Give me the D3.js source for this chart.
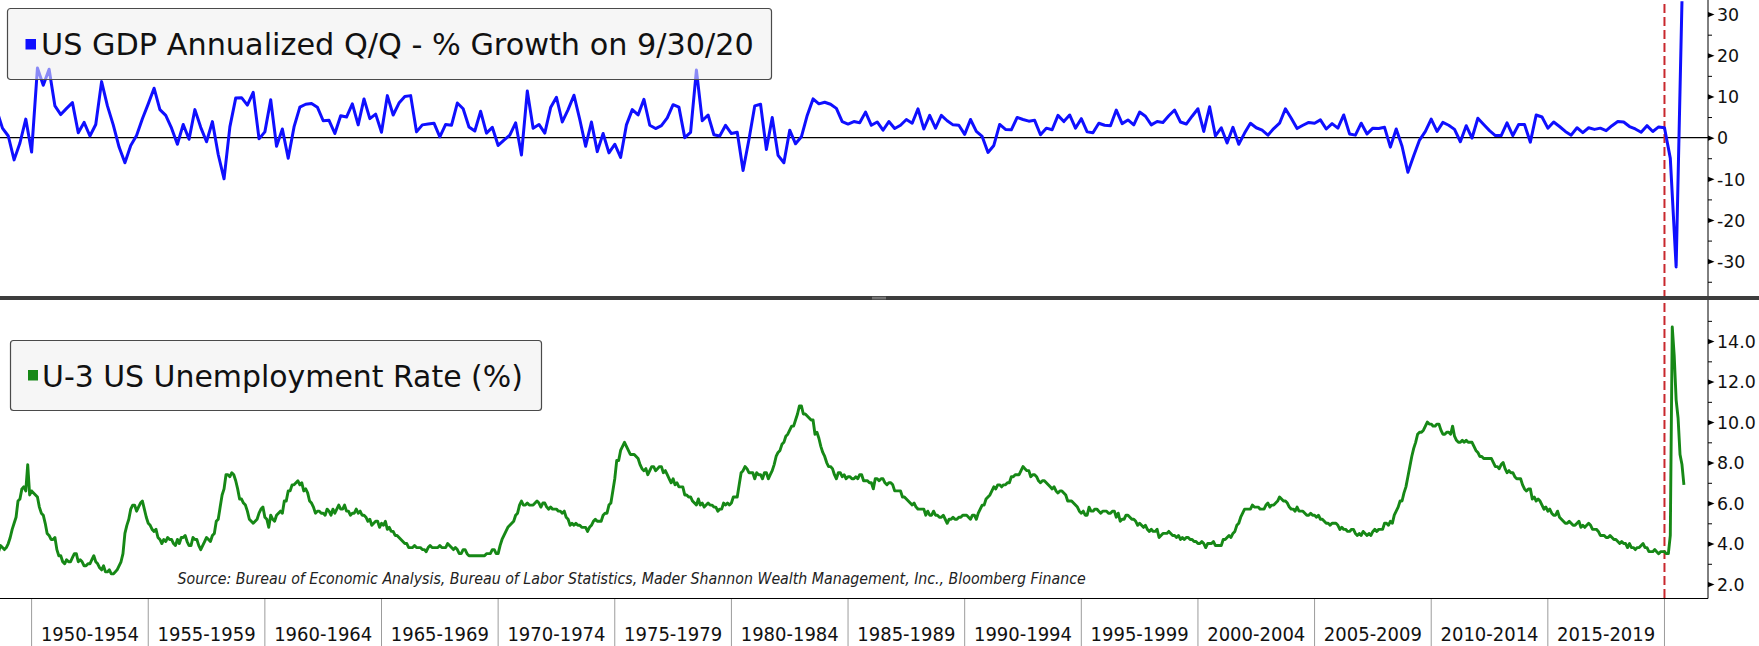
<!DOCTYPE html>
<html><head><meta charset="utf-8">
<script src="https://cdn.jsdelivr.net/npm/d3@7"></script>
<style>html,body{margin:0;padding:0;background:#fff;overflow:hidden}</style>
</head><body><svg id="c" width="1759" height="646"></svg>
<script>
// ---------------- DATA ----------------
const categories = ["1950-1954","1955-1959","1960-1964","1965-1969","1970-1974","1975-1979","1980-1984",
  "1985-1989","1990-1994","1995-1999","2000-2004","2005-2009","2010-2014","2015-2019"];
const categoryStartYears = [1950,1955,1960,1965,1970,1975,1980,1985,1990,1995,2000,2005,2010,2015];
const categoryEndYear = 2020;

const gdpTitle = "US GDP Annualized Q/Q - % Growth on 9/30/20";
const unempTitle = "U-3 US Unemployment Rate (%)";
const sourceText = "Source: Bureau of Economic Analysis, Bureau of Labor Statistics, Mader Shannon Wealth Management, Inc., Bloomberg Finance";

// quarterly, starting 1948 Q1 (plotted at quarter end)
const gdpStartYear = 1948;
const gdpGrowth = [
  6.2, 6.8, 2.3, 0.4,
  -5.4, -1.3, 4.5, -3.5,
  16.9, 12.7, 16.6, 7.7,
  5.6, 7.1, 8.5, 1.2,
  3.7, 0.4, 3.2, 13.6,
  7.7, 3.1, -2.3, -6.1,
  -1.9, 0.5, 4.6, 8.2,
  12.0, 6.8, 5.4, 2.3,
  -1.6, 3.2, -0.4, 6.8,
  2.5, -1.0, 3.9, -4.1,
  -10.0, 2.6, 9.6, 9.7,
  7.9, 11.0, -0.3, 1.4,
  9.2, -2.1, 2.1, -5.0,
  2.6, 7.4, 8.1, 8.3,
  7.4, 4.1, 4.2, 1.0,
  5.3, 5.0, 8.2, 3.1,
  9.4, 4.6, 5.7, 1.3,
  10.2, 5.5, 8.4, 10.0,
  10.2, 1.4, 3.1, 3.3,
  3.5, 0.2, 3.2, 3.0,
  8.4, 7.0, 2.6, 1.6,
  6.4, 1.1, 2.5, -1.9,
  -0.6, 0.6, 3.6, -4.2,
  11.3, 2.3, 3.2, 1.1,
  7.3, 9.8, 3.8, 6.8,
  10.3, 4.4, -2.1, 3.8,
  -3.4, 1.0, -3.7, -1.6,
  -4.8, 3.1, 6.8, 5.5,
  9.3, 3.0, 2.2, 2.9,
  4.8, 8.0, 7.4, 0.0,
  1.3, 16.4, 4.1, 5.5,
  0.7, 0.4, 3.0, 1.0,
  1.3, -8.0, -0.5, 7.7,
  8.1, -2.9, 4.9, -4.3,
  -6.1, 1.8, -1.5, 0.2,
  5.4, 9.4, 8.2, 8.6,
  8.1, 7.1, 3.9, 3.3,
  3.9, 3.6, 6.2, 3.0,
  3.8, 1.8, 3.9, 2.2,
  3.0, 4.4, 3.5, 7.0,
  2.1, 5.4, 2.3, 5.4,
  4.1, 3.1, 3.0, 0.8,
  4.4, 1.5, 0.3, -3.6,
  -1.9, 3.2, 2.0, 1.9,
  4.9, 4.4, 4.0, 4.2,
  0.7, 2.3, 1.9, 5.4,
  3.9, 5.5, 2.3, 4.6,
  1.4, 1.2, 3.5, 3.0,
  2.9, 6.7, 3.4, 4.3,
  3.1, 6.2, 5.2, 3.1,
  3.9, 3.7, 5.3, 6.7,
  3.8, 3.3, 5.2, 7.0,
  1.5, 7.5, 0.4, 2.4,
  -1.3, 2.5, -1.6, 1.1,
  3.5, 2.4, 1.8, 0.6,
  2.2, 3.5, 7.0, 4.7,
  2.2, 3.0, 3.7, 3.5,
  4.3, 2.1, 3.4, 2.3,
  5.5, 0.9, 0.6, 3.5,
  0.9, 2.3, 2.2, 2.5,
  -2.3, 2.1, -2.1, -8.4,
  -4.4, -0.6, 1.5, 4.5,
  1.5, 3.7, 3.0, 2.0,
  -1.0, 2.9, -0.1, 4.7,
  3.2, 1.7, 0.5, 0.5,
  3.6, 0.5, 3.2, 3.2,
  -1.1, 5.5, 5.0, 2.3,
  3.8, 2.7, 1.5, 0.6,
  2.4, 1.2, 2.4, 2.0,
  2.3, 1.7, 2.9, 3.9,
  3.8, 2.7, 2.1, 1.3,
  2.9, 1.5, 2.6, 2.4,
  -5.0, -31.4, 33.1
];

// monthly, starting Jan 1948 (plotted at month end)
const unempStartYear = 1948;
const unempRate = [
  3.4,3.8,4.0,3.9,3.5,3.6,3.6,3.9,3.8,3.7,3.8,4.0,
  4.3,4.7,5.0,5.3,6.1,6.2,6.7,6.8,6.6,7.9,6.4,6.6,
  6.5,6.4,6.3,5.8,5.5,5.4,5.0,4.5,4.4,4.2,4.2,4.3,
  3.7,3.4,3.4,3.1,3.0,3.2,3.1,3.1,3.3,3.5,3.5,3.1,
  3.2,3.1,2.9,2.9,3.0,3.0,3.2,3.4,3.1,3.0,2.8,2.7,
  2.9,2.6,2.6,2.7,2.5,2.5,2.6,2.7,2.9,3.1,3.5,4.5,
  4.9,5.2,5.7,5.9,5.9,5.6,5.8,6.0,6.1,5.7,5.3,5.0,
  4.9,4.7,4.6,4.7,4.3,4.2,4.0,4.2,4.1,4.3,4.2,4.2,
  4.0,3.9,4.2,4.0,4.3,4.3,4.4,4.1,3.9,3.9,4.3,4.2,
  4.2,3.9,3.7,3.9,4.1,4.3,4.2,4.1,4.4,4.5,5.1,5.2,
  5.8,6.4,6.7,7.4,7.4,7.3,7.5,7.4,7.1,6.7,6.2,6.2,
  6.0,5.9,5.6,5.2,5.1,5.0,5.1,5.2,5.5,5.7,5.8,5.3,
  5.2,4.8,5.4,5.2,5.1,5.4,5.5,5.6,5.5,6.1,6.1,6.6,
  6.6,6.9,6.9,7.0,7.1,6.9,7.0,6.6,6.7,6.5,6.1,6.0,
  5.8,5.5,5.6,5.6,5.5,5.5,5.4,5.7,5.6,5.4,5.7,5.5,
  5.7,5.9,5.7,5.7,5.9,5.6,5.6,5.4,5.5,5.5,5.7,5.5,
  5.6,5.4,5.4,5.3,5.1,5.2,4.9,5.0,5.1,5.1,4.8,5.0,
  4.9,5.1,4.7,4.8,4.6,4.6,4.4,4.4,4.3,4.2,4.1,4.0,
  4.0,3.8,3.8,3.8,3.9,3.8,3.8,3.8,3.7,3.7,3.6,3.8,
  3.9,3.8,3.8,3.8,3.8,3.9,3.8,3.8,3.8,4.0,3.9,3.8,
  3.7,3.8,3.7,3.5,3.5,3.7,3.7,3.5,3.4,3.4,3.4,3.4,
  3.4,3.4,3.4,3.4,3.4,3.5,3.5,3.5,3.7,3.7,3.5,3.5,
  3.9,4.2,4.4,4.6,4.8,4.9,5.0,5.1,5.4,5.5,5.9,6.1,
  5.9,5.9,6.0,5.9,5.9,5.9,6.0,6.1,6.0,5.8,6.0,6.0,
  5.8,5.7,5.8,5.7,5.7,5.7,5.6,5.6,5.5,5.6,5.3,5.2,
  4.9,5.0,4.9,5.0,4.9,4.9,4.8,4.8,4.8,4.6,4.8,4.9,
  5.1,5.2,5.1,5.1,5.1,5.4,5.5,5.5,5.9,6.0,6.6,7.2,
  8.1,8.1,8.6,8.8,9.0,8.8,8.6,8.4,8.4,8.4,8.3,8.2,
  7.9,7.7,7.6,7.7,7.4,7.6,7.8,7.8,7.6,7.7,7.8,7.8,
  7.5,7.6,7.4,7.2,7.0,7.2,6.9,7.0,6.8,6.8,6.8,6.4,
  6.4,6.3,6.3,6.1,6.0,5.9,6.2,5.9,6.0,5.8,5.9,6.0,
  5.9,5.9,5.8,5.8,5.6,5.7,5.7,6.0,5.9,6.0,5.9,6.0,
  6.3,6.3,6.3,6.9,7.5,7.6,7.8,7.7,7.5,7.5,7.5,7.2,
  7.5,7.4,7.4,7.2,7.5,7.5,7.2,7.4,7.6,7.9,8.3,8.5,
  8.6,8.9,9.0,9.3,9.4,9.6,9.8,9.8,10.1,10.4,10.8,10.8,
  10.4,10.4,10.3,10.2,10.1,10.1,9.4,9.5,9.2,8.8,8.5,8.3,
  8.0,7.8,7.8,7.7,7.4,7.2,7.5,7.5,7.3,7.4,7.2,7.3,
  7.3,7.2,7.2,7.3,7.2,7.4,7.4,7.1,7.1,7.1,7.0,7.0,
  6.7,7.2,7.2,7.1,7.2,7.2,7.0,6.9,7.0,7.0,6.9,6.6,
  6.6,6.6,6.6,6.3,6.3,6.2,6.1,6.0,5.9,6.0,5.8,5.7,
  5.7,5.7,5.7,5.4,5.6,5.4,5.4,5.6,5.4,5.4,5.3,5.3,
  5.4,5.2,5.0,5.2,5.2,5.3,5.2,5.2,5.3,5.3,5.4,5.4,
  5.4,5.3,5.2,5.4,5.4,5.2,5.5,5.7,5.9,5.9,6.2,6.3,
  6.4,6.6,6.8,6.7,6.9,6.9,6.8,6.9,6.9,7.0,7.0,7.3,
  7.3,7.4,7.4,7.4,7.6,7.8,7.7,7.6,7.6,7.3,7.4,7.4,
  7.3,7.1,7.0,7.1,7.1,7.0,6.9,6.8,6.7,6.8,6.6,6.5,
  6.6,6.6,6.5,6.4,6.1,6.1,6.1,6.0,5.9,5.8,5.6,5.5,
  5.6,5.4,5.4,5.8,5.6,5.6,5.7,5.7,5.6,5.5,5.6,5.6,
  5.6,5.5,5.5,5.6,5.6,5.3,5.5,5.1,5.2,5.2,5.4,5.4,
  5.3,5.2,5.2,5.1,4.9,5.0,4.9,4.8,4.9,4.7,4.6,4.7,
  4.6,4.6,4.7,4.3,4.4,4.5,4.5,4.5,4.6,4.5,4.4,4.4,
  4.3,4.4,4.2,4.3,4.2,4.3,4.3,4.2,4.2,4.1,4.1,4.0,
  4.0,4.1,4.0,3.8,4.0,4.0,4.0,4.1,3.9,3.9,3.9,3.9,
  4.2,4.2,4.3,4.4,4.3,4.5,4.6,4.9,5.0,5.3,5.5,5.7,
  5.7,5.7,5.7,5.9,5.8,5.8,5.8,5.7,5.7,5.7,5.9,6.0,
  5.8,5.9,5.9,6.0,6.1,6.3,6.2,6.1,6.1,6.0,5.8,5.7,
  5.7,5.6,5.8,5.6,5.6,5.6,5.5,5.4,5.4,5.5,5.4,5.4,
  5.3,5.4,5.2,5.2,5.1,5.0,5.0,4.9,5.0,5.0,5.0,4.9,
  4.7,4.8,4.7,4.7,4.6,4.6,4.7,4.7,4.5,4.4,4.5,4.4,
  4.6,4.5,4.4,4.5,4.4,4.6,4.7,4.6,4.7,4.7,4.7,5.0,
  5.0,4.9,5.1,5.0,5.4,5.6,5.8,6.1,6.1,6.5,6.8,7.3,
  7.8,8.3,8.7,9.0,9.4,9.5,9.5,9.6,9.8,10.0,9.9,9.9,
  9.8,9.8,9.9,9.9,9.6,9.4,9.4,9.5,9.5,9.4,9.8,9.3,
  9.1,9.0,9.0,9.1,9.0,9.1,9.0,9.0,9.0,8.8,8.6,8.5,
  8.3,8.3,8.2,8.2,8.2,8.2,8.2,8.0,7.8,7.8,7.7,7.9,
  8.0,7.7,7.5,7.6,7.5,7.5,7.3,7.2,7.2,7.2,6.9,6.7,
  6.6,6.7,6.7,6.2,6.3,6.1,6.2,6.1,5.9,5.7,5.8,5.6,
  5.7,5.5,5.4,5.4,5.6,5.3,5.2,5.1,5.0,5.0,5.1,5.0,
  4.9,4.9,5.0,5.1,4.8,4.9,4.8,4.9,5.0,4.9,4.7,4.7,
  4.7,4.6,4.4,4.4,4.4,4.3,4.3,4.4,4.3,4.2,4.2,4.1,
  4.0,4.1,4.0,4.0,3.8,4.0,3.8,3.8,3.7,3.8,3.8,3.9,
  4.0,3.8,3.8,3.6,3.6,3.6,3.7,3.6,3.5,3.6,3.6,3.6,
  3.5,3.5,4.4,14.7,13.3,11.1,10.2,8.4,7.9,6.9
];

const gdpTicks = [-30,-20,-10,0,10,20,30];
const gdpMinorTicks = [-35,-25,-15,-5,5,15,25];
const unempTicks = [2,4,6,8,10,12,14];
const unempMinorTicks = [3,5,7,9,11,13,15];
const eventYear = 2020;

// ---------------- LAYOUT ----------------
const W = 1759, H = 646;
const plotRight = 1708;
const topPanel = {y0: 0, y1: 296};
const botPanel = {y0: 300, y1: 598};
const FONT = "DejaVu Sans";
const blue = "#0f0fff", green = "#168816";

const gdpData = gdpGrowth.map((v,i) => ({t: gdpStartYear + (i+1)/4, v}));
const unempData = unempRate.map((v,i) => ({t: unempStartYear + (i+1)/12, v}));

const x = d3.scaleLinear().domain([1948.645, 2021.866]).range([0, plotRight]);
const yTop = d3.scaleLinear().domain([-38.7, 33.42]).range([297, 0]);
const yBot = d3.scaleLinear().domain([1.31, 16.03]).range([598, 300]);

const svg = d3.select("#c");
svg.append("rect").attr("width", W).attr("height", H).attr("fill", "#fff");

const defs = svg.append("defs");
defs.append("clipPath").attr("id","clipTop").append("rect")
  .attr("x",0).attr("y",topPanel.y0).attr("width",plotRight).attr("height",topPanel.y1-topPanel.y0);
defs.append("clipPath").attr("id","clipBot").append("rect")
  .attr("x",0).attr("y",botPanel.y0).attr("width",plotRight).attr("height",botPanel.y1-botPanel.y0);

// zero line
svg.append("line").attr("x1",0).attr("x2",plotRight)
  .attr("y1",yTop(0)).attr("y2",yTop(0)).attr("stroke","#000").attr("stroke-width",1.2);

// event dashed line
svg.append("line").attr("x1",x(eventYear)).attr("x2",x(eventYear))
  .attr("y1",4).attr("y2",botPanel.y1)
  .attr("stroke","#c8282d").attr("stroke-width",2).attr("stroke-dasharray","9,4");

// lines
const lineTop = d3.line().x(d=>x(d.t)).y(d=>yTop(d.v));
const lineBot = d3.line().x(d=>x(d.t)).y(d=>yBot(d.v));
svg.append("path").datum(gdpData).attr("clip-path","url(#clipTop)")
  .attr("d",lineTop).attr("fill","none").attr("stroke",blue)
  .attr("stroke-width",3).attr("stroke-linejoin","round");
svg.append("path").datum(unempData).attr("clip-path","url(#clipBot)")
  .attr("d",lineBot).attr("fill","none").attr("stroke",green)
  .attr("stroke-width",2.9).attr("stroke-linejoin","round");

// separator bar between panels
svg.append("rect").attr("x",0).attr("y",296).attr("width",W).attr("height",4).attr("fill","#3d3d3d");
svg.append("line").attr("x1",872).attr("x2",886).attr("y1",297.3).attr("y2",297.3).attr("stroke","#9a9a9a").attr("stroke-width",0.8);
svg.append("line").attr("x1",872).attr("x2",886).attr("y1",298.8).attr("y2",298.8).attr("stroke","#9a9a9a").attr("stroke-width",0.8);

// frames
svg.append("line").attr("x1",plotRight).attr("x2",plotRight).attr("y1",0).attr("y2",296).attr("stroke","#000").attr("stroke-width",1);
svg.append("line").attr("x1",plotRight).attr("x2",plotRight).attr("y1",300).attr("y2",598.5).attr("stroke","#000").attr("stroke-width",1);
svg.append("line").attr("x1",0).attr("x2",plotRight).attr("y1",598.5).attr("y2",598.5).attr("stroke","#000").attr("stroke-width",1.2);

// right axes
function drawAxis(scale, ticks, minor, fmt) {
  const gMinor = svg.append("g").attr("transform",`translate(${plotRight},0)`)
    .call(d3.axisRight(scale).tickValues(minor).tickSize(4).tickFormat(""));
  gMinor.select(".domain").remove();
  gMinor.selectAll("line").attr("stroke","#000");
  const g = svg.append("g").attr("transform",`translate(${plotRight},0)`)
    .call(d3.axisRight(scale).tickValues(ticks).tickSize(0).tickPadding(9).tickFormat(fmt));
  g.select(".domain").remove();
  g.selectAll(".tick").append("path").attr("d","M0,-2.6L6.5,0L0,2.6Z").attr("fill","#000");
  g.selectAll("text").attr("font-family",FONT).attr("font-size",17.4).attr("fill","#111")
    .attr("dy","0.36em");
}
drawAxis(yTop, gdpTicks, gdpMinorTicks, d => String(d));
drawAxis(yBot, unempTicks, unempMinorTicks, d3.format(".1f"));

// bottom category axis
const sepYears = categoryStartYears.concat([categoryEndYear]);
svg.append("g").selectAll("line").data(sepYears).join("line")
  .attr("x1",d=>x(d)).attr("x2",d=>x(d)).attr("y1",599).attr("y2",H)
  .attr("stroke","#9c9c9c").attr("stroke-width",1);
svg.append("g").selectAll("text").data(categories).join("text")
  .attr("x",(d,i)=>(x(categoryStartYears[i]) + x(sepYears[i+1]))/2)
  .attr("y",640.5).attr("text-anchor","middle")
  .attr("font-family","DejaVu Sans Condensed").attr("font-size",20).attr("fill","#111")
  .text(d=>d);

// legends
function legend(bx, by, bw, bh, color, sq, tx, ty, txt, targetW) {
  svg.append("rect").attr("x",bx+0.5).attr("y",by+0.5).attr("width",bw).attr("height",bh)
    .attr("rx",3).attr("fill","#efefef").attr("fill-opacity",0.55)
    .attr("stroke","#4a4a4a").attr("stroke-width",1.2);
  svg.append("rect").attr("x",sq[0]).attr("y",sq[1]).attr("width",sq[2]).attr("height",sq[3]).attr("fill",color);
  const t = svg.append("text").attr("x",tx).attr("y",ty).attr("font-family",FONT)
    .attr("font-size",30).attr("fill","#111").text(txt);
  const w = t.node().getComputedTextLength();
  if (w > 0) t.attr("font-size", 30 * targetW / w);
}
legend(7, 8, 764, 71, blue, [25.5, 39, 10.5, 10.5], 41, 55, gdpTitle, 713);
legend(10, 340, 531, 70, green, [28, 370, 10, 10.5], 42, 386.5, unempTitle, 481);

// source
const st = svg.append("text").attr("x",177.5).attr("y",583.5)
  .attr("font-family","DejaVu Sans Condensed").attr("font-style","italic")
  .attr("font-size",15).attr("fill","#222").text(sourceText);
const sw = st.node().getComputedTextLength();
if (sw > 0) st.attr("font-size", 15 * 909 / sw);
</script>
</body></html>
